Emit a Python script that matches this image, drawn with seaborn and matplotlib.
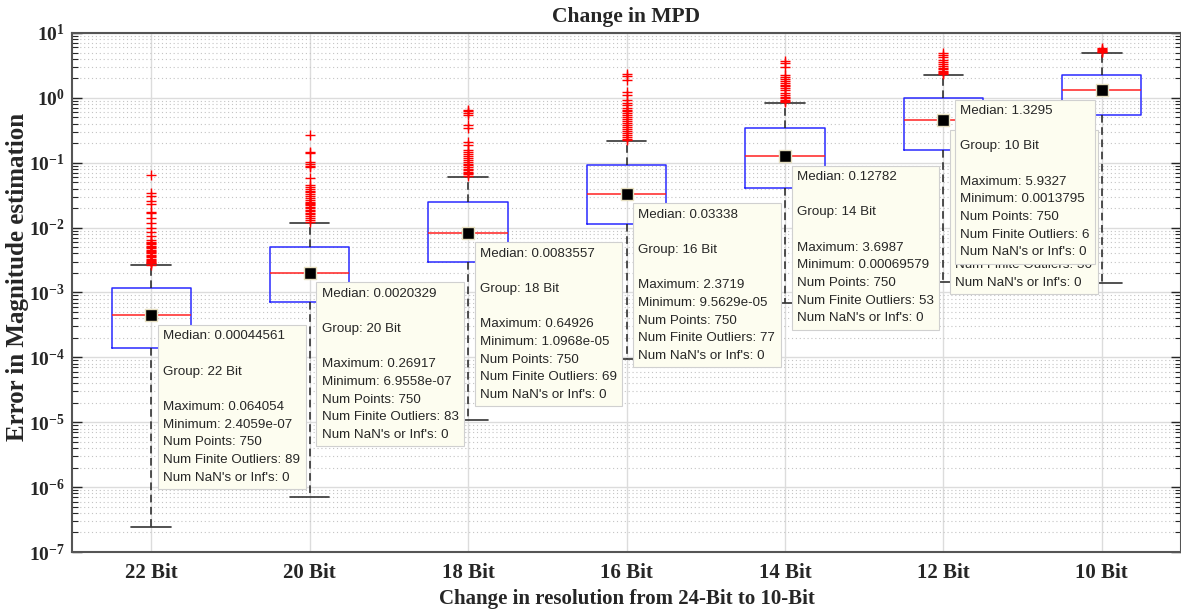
import matplotlib
matplotlib.use("Agg")
import matplotlib.pyplot as plt
import seaborn as sns
import pandas as pd
from matplotlib.ticker import FixedLocator, FixedFormatter, NullFormatter

# ---- data ----
groups = ["22 Bit", "20 Bit", "18 Bit", "16 Bit", "14 Bit", "12 Bit", "10 Bit"]
medians = [0.00044561, 0.0020329, 0.0083557, 0.03338, 0.12782, 0.4486, 1.3295]
q1 = [1.39e-4, 7.1e-4, 2.95e-3, 0.0114, 0.0408, 0.157, 0.544]
q3 = [1.17e-3, 5.0e-3, 0.0248, 0.092, 0.343, 0.996, 2.28]
whis_lo = [2.4059e-07, 6.9558e-07, 1.0968e-05, 9.5629e-05, 0.00069579, 0.0014512, 0.0013795]
whis_hi = [2.65e-3, 0.0118, 0.060, 0.216, 0.82, 2.25, 4.9]
maximum = [0.064054, 0.26917, 0.64926, 2.3719, 3.6987, 4.9812, 5.9327]
minimum = [2.4059e-07, 6.9558e-07, 1.0968e-05, 9.5629e-05, 0.00069579, 0.0014512, 0.0013795]
num_points = [750, 750, 750, 750, 750, 750, 750]
num_outliers = [89, 83, 69, 77, 53, 36, 6]

outliers_22 = [0.064054, 0.0342, 0.0305, 0.0257, 0.0231, 0.0174, 0.0168, 0.0141, 0.0118,
               0.0099, 0.0086, 0.0074, 0.0065, 0.0061, 0.0058, 0.0055, 0.0052, 0.0050,
               0.0048, 0.0046, 0.0044, 0.0042, 0.0040, 0.0038, 0.0036, 0.0035, 0.0033,
               0.0032, 0.0031, 0.0030, 0.0029, 0.0028, 0.0027]
outliers_20 = [0.26917, 0.147, 0.141, 0.103, 0.095, 0.089, 0.086, 0.0582, 0.0454, 0.042,
               0.039, 0.037, 0.035, 0.033, 0.031, 0.029, 0.027, 0.025, 0.024, 0.023,
               0.022, 0.021, 0.020, 0.019, 0.018, 0.017, 0.016, 0.015, 0.014, 0.0132, 0.0124]
outliers_18 = [0.64926, 0.62, 0.58, 0.547, 0.382, 0.342, 0.209, 0.187, 0.158, 0.145, 0.135,
               0.125, 0.118, 0.110, 0.103, 0.097, 0.091, 0.086, 0.081, 0.077, 0.073,
               0.069, 0.066, 0.063]
outliers_16 = [2.3719, 2.2, 1.89, 1.23, 1.11, 0.93, 0.83, 0.77, 0.70, 0.66, 0.62, 0.58,
               0.54, 0.50, 0.47, 0.44, 0.41, 0.38, 0.35, 0.33, 0.31, 0.29, 0.27, 0.25,
               0.235, 0.225]
outliers_14 = [3.6987, 3.4, 3.0, 2.25, 2.1, 1.95, 1.8, 1.7, 1.6, 1.5, 1.4, 1.3, 1.2, 1.12,
               1.05, 0.98, 0.93, 0.88, 0.85]
outliers_12 = [4.9812, 4.6, 4.2, 3.9, 3.6, 3.3, 3.1, 2.9, 2.75, 2.6, 2.5, 2.4, 2.32]
outliers_10 = [5.9327, 5.7, 5.5, 5.3, 5.15, 5.05]
outliers = [outliers_22, outliers_20, outliers_18, outliers_16, outliers_14, outliers_12, outliers_10]

# ---- style ----
sns.set_theme(style="ticks")
plt.rcParams["mathtext.fontset"] = "custom"
plt.rcParams["mathtext.rm"] = "Liberation Serif:bold"
plt.rcParams["mathtext.it"] = "Liberation Serif:bold:italic"
plt.rcParams["mathtext.bf"] = "Liberation Serif:bold"
plt.rcParams["font.family"] = ["Liberation Serif", "DejaVu Serif"]

AX_COLOR = "#262626"
SERIF = dict(family="Liberation Serif", weight="bold", size=15, color=AX_COLOR)

fig = plt.figure(figsize=(11.81, 6.13), dpi=100)
ax = fig.add_axes([72 / 1181, 1 - 552 / 613, (1181 - 72) / 1181, (552 - 33) / 613])

# ---- boxes (custom stats) ----
stats = []
for i, g in enumerate(groups):
    stats.append(dict(label=g, med=medians[i], q1=q1[i], q3=q3[i],
                      whislo=whis_lo[i], whishi=whis_hi[i], fliers=[]))
ax.bxp(stats, positions=range(len(groups)), widths=0.5, capwidths=0.25,
       showfliers=False,
       boxprops=dict(color="#2a2aff", lw=1.1),
       whiskerprops=dict(color="#222222", lw=1.1, ls=(0, (5, 3))),
       capprops=dict(color="#333333", lw=1.2),
       medianprops=dict(color="#ff2020", lw=1.1))

# ---- outliers via seaborn ----
out_df = pd.DataFrame({
    "pos": [i for i, vals in enumerate(outliers) for _ in vals],
    "value": [v for vals in outliers for v in vals],
})
sns.scatterplot(data=out_df, x="pos", y="value", marker="+", color="red",
                s=60, linewidth=1.0, ax=ax, zorder=4, legend=False)

# ---- median data-tip markers ----
med_df = pd.DataFrame({"pos": range(len(groups)), "value": medians})
sns.scatterplot(data=med_df, x="pos", y="value", marker="s", color="black",
                s=70, edgecolor="#e6dfc0", linewidth=1, ax=ax, zorder=5, legend=False)

# ---- axes ----
ax.set_yscale("log")
ax.set_ylim(1e-7, 10)
ax.set_xlim(-0.5, len(groups) - 0.5)

decades = list(range(-7, 2))
ax.yaxis.set_major_locator(FixedLocator([10.0 ** d for d in decades]))
ax.yaxis.set_major_formatter(FixedFormatter([r"$10^{%d}$" % d for d in decades]))
ax.yaxis.set_minor_locator(FixedLocator([m * 10.0 ** d for d in decades[:-1] for m in range(2, 10)]))
ax.yaxis.set_minor_formatter(NullFormatter())

ax.set_xticks(range(len(groups)))
ax.set_xticklabels(groups, fontdict=SERIF)
for lab in ax.get_yticklabels():
    lab.set_fontsize(14)
    lab.set_color(AX_COLOR)

ax.tick_params(axis="y", which="major", direction="in", left=True, right=True,
               length=7, width=1, color=AX_COLOR, pad=5)
ax.tick_params(axis="y", which="minor", direction="in", left=True, right=True,
               length=4, width=0.8, color=AX_COLOR)
ax.tick_params(axis="x", length=0, pad=8)

ax.grid(True, which="major", axis="both", color="#dcdcdc", lw=1, ls="-")
ax.grid(True, which="minor", axis="y", color="#c4c4c4", lw=0.8, ls=(0, (1, 2.5)))
ax.set_axisbelow(True)
for sp in ax.spines.values():
    sp.set_color("#555555")
    sp.set_linewidth(1.5)

ax.set_title("Change in MPD", pad=8, **{**SERIF, "size": 15.5})
ax.set_xlabel("Change in resolution from 24-Bit to 10-Bit", labelpad=4, **SERIF)
ax.set_ylabel("Error in Magnitude estimation", **{**SERIF, "size": 18})
ax.yaxis.set_label_coords(-0.039, 0.53)

# ---- data tips ----
for i, g in enumerate(groups):
    txt = (f"Median: {medians[i]:.5g}\n\nGroup: {g}\n\n"
           f"Maximum: {maximum[i]:.5g}\nMinimum: {minimum[i]:.5g}\n"
           f"Num Points: {num_points[i]}\nNum Finite Outliers: {num_outliers[i]}\n"
           f"Num NaN's or Inf's: 0")
    if i == len(groups) - 1:
        xy_off, ha = (-12, -15), "right"
    else:
        xy_off, ha = (12, -15), "left"
    ax.annotate(txt, xy=(i, medians[i]), xytext=xy_off, textcoords="offset pixels",
                ha=ha, va="top", multialignment="left", fontsize=9.6,
                family="Liberation Sans", color=AX_COLOR, linespacing=1.63,
                zorder=10 + i,
                bbox=dict(boxstyle="square,pad=0.4", fc="#fdfdf0", ec="#d0d0d0", lw=0.8))

fig.savefig("out.png", dpi=100, facecolor="white")
